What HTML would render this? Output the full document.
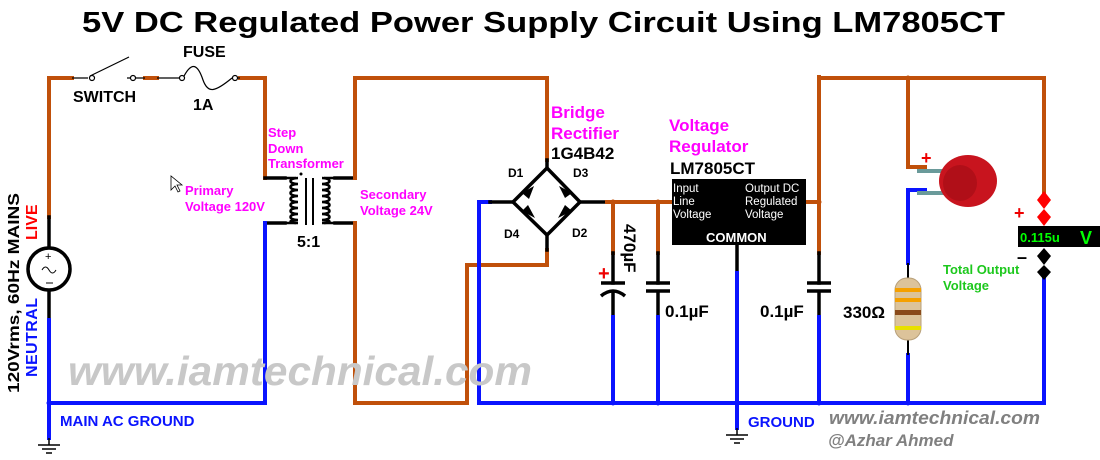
<!DOCTYPE html>
<html><head><meta charset="utf-8"><style>
html,body{margin:0;padding:0;background:#fff;}
svg{display:block;font-family:"Liberation Sans",Arial,sans-serif;}
</style></head><body>
<svg width="1100" height="460" viewBox="0 0 1100 460" xmlns="http://www.w3.org/2000/svg">
<text x="82" y="32" font-size="29" font-weight="bold" textLength="923" lengthAdjust="spacingAndGlyphs">5V DC Regulated Power Supply Circuit Using LM7805CT</text>

<g fill="none" stroke-width="4" stroke-linecap="square">
<path d="M49 217 V78 H72 M145 78 H157 M240 78 H265 V178" stroke="#c0500a"/>
<path d="M49 217 V248 M49 290 V320 M265 178 H285 M265 223 H285" stroke="#000" stroke-width="3.5"/>
<path d="M49 320 V438 M49 403 H265 V223" stroke="#0a14ff"/>
<path d="M335 178 H355 M335 223 H355" stroke="#000" stroke-width="3.5"/>
<path d="M355 178 V78 H547 V160 M355 223 V403 H467 V265 H547 V250" stroke="#c0500a"/>
<path d="M479 403 V202 H490" stroke="#0a14ff"/>
<path d="M490 202 H513 M547 160 V168 M547 235 V250 M580 202 H607" stroke="#000" stroke-width="3.5"/>
<path d="M547 168 L513 202 L547 235 L580 202 Z" stroke="#000" stroke-width="3.5"/>
<path d="M607 202 H672 M613 202 V253 M658 202 V253 M806 202 H819 M819 77 V253 M819 78 H1044 V197 M908 78 V167 H925" stroke="#c0500a"/>
<path d="M613 253 V283 M613 293 V317 M658 253 V283 M658 292 V317 M819 253 V283 M819 292 V317 M737 245 V273" stroke="#000" stroke-width="3.5"/>
<path d="M479 403 H1044 V278 M613 317 V403 M658 317 V403 M819 317 V403 M737 273 V428 M908 263 V190 H925 M908 355 V403" stroke="#0a14ff"/>
</g>
<g stroke="#000" stroke-width="3.5" fill="none">
<path d="M601 283 H625"/><path d="M601 296 Q613 286 625 296"/>
<path d="M646 283 H670 M646 291 H670"/>
<path d="M807 283 H831 M807 291 H831"/>
</g>
<text x="598" y="280" fill="#e00" font-size="20" font-weight="bold">+</text>
<text transform="translate(624,224) rotate(90)" font-size="17" font-weight="bold">470µF</text>
<text x="665" y="317" font-size="17" font-weight="bold">0.1µF</text>
<text x="760" y="317" font-size="17" font-weight="bold">0.1µF</text>
<text x="843" y="318" font-size="17" font-weight="bold">330Ω</text>

<g stroke="#000" stroke-width="1.5">
<path d="M49 438 V445 M38 445 H60 M42 449 H56 M46 453 H52"/>
<path d="M737 428 V435 M726 435 H748 M730 439 H744 M734 443 H740"/>
</g>
<circle cx="49" cy="403" r="2.5" fill="#0a14ff"/>

<circle cx="49" cy="269" r="21" fill="#fff" stroke="#000" stroke-width="3.5"/>
<text x="45" y="260" font-size="11">+</text>
<path d="M42 270 q3.5 -6 7 0 t7 0" stroke="#000" fill="none" stroke-width="1"/>
<path d="M46 283 H53" stroke="#000"/>

<g stroke="#000" stroke-width="1.2" fill="#fff">
<path d="M72 78 H88 M127 78 H145 M90 76 L129 57" fill="none"/>
<circle cx="92" cy="78" r="2.5"/><circle cx="133" cy="78" r="2.5"/>
<path d="M157 78 H180 M240 78 H233" fill="none"/>
<path d="M183 78 C192 60 198 65 203 80 C208 94 215 92 232 78" fill="none"/>
<circle cx="182" cy="78" r="2.5"/><circle cx="235" cy="78" r="2.5"/>
</g>
<text x="73" y="102" font-size="16" font-weight="bold">SWITCH</text>
<text x="183" y="57" font-size="16" font-weight="bold">FUSE</text>
<text x="193" y="110" font-size="16" font-weight="bold">1A</text>

<g stroke="#000" stroke-width="2.5" fill="none">
<path d="M298 178 c-10 0 -10 6 0 6 c-10 0 -10 6 0 6 c-10 0 -10 6 0 6 c-10 0 -10 6 0 6 c-10 0 -10 6 0 6 c-10 0 -10 6 0 6 c-10 0 -10 6 0 6 c-10 0 -10 3 0 3"/>
<path d="M322 178 c10 0 10 6 0 6 c10 0 10 6 0 6 c10 0 10 6 0 6 c10 0 10 6 0 6 c10 0 10 6 0 6 c10 0 10 6 0 6 c10 0 10 6 0 6 c10 0 10 3 0 3"/>
<path d="M285 178 H296 M285 223 H296 M324 178 H335 M324 223 H335"/>
<path d="M306 178 V225 M313 178 V225" stroke-width="2"/>
</g>
<circle cx="301" cy="174" r="1.5"/>
<text x="297" y="247" font-size="16" font-weight="bold">5:1</text>

<g fill="#f0f" font-size="13" font-weight="bold">
<text x="268" y="137">Step</text><text x="268" y="153">Down</text><text x="268" y="168">Transformer</text>
<text x="185" y="195">Primary</text><text x="185" y="211">Voltage 120V</text>
<text x="360" y="199">Secondary</text><text x="360" y="215">Voltage 24V</text>
<text x="551" y="118" font-size="17">Bridge</text><text x="551" y="139" font-size="17">Rectifier</text>
<text x="669" y="131" font-size="17">Voltage</text><text x="669" y="152" font-size="17">Regulator</text>
</g>
<path d="M171 176 L171 190 L175 186 L178 192 L180 191 L177 185 L182 185 Z" fill="#fff" stroke="#000" stroke-width="0.8"/>
<text x="551" y="159" font-size="17" font-weight="bold">1G4B42</text>
<text x="670" y="174" font-size="17" font-weight="bold">LM7805CT</text>

<g fill="#000">
<path d="M522 193 L534 186 L529 199 Z"/><path d="M559 186 L572 193 L565 198 Z"/>
<path d="M522 211 L528 205 L535 218 Z"/><path d="M558 218 L565 205 L572 211 Z"/>
</g>
<g font-size="12" font-weight="bold">
<text x="508" y="177">D1</text><text x="573" y="177">D3</text>
<text x="504" y="238">D4</text><text x="572" y="237">D2</text>
</g>

<rect x="672" y="179" width="134" height="66" fill="#000"/>
<g fill="#fff" font-size="11.5">
<text x="673" y="192">Input</text><text x="673" y="205">Line</text><text x="673" y="218">Voltage</text>
<text x="745" y="192">Output DC</text><text x="745" y="205">Regulated</text><text x="745" y="218">Voltage</text>
<text x="706" y="242" font-size="13" font-weight="bold">COMMON</text>
</g>
<g fill="#c0500a"><circle cx="613" cy="202" r="2.5"/><circle cx="658" cy="202" r="2.5"/><circle cx="819" cy="202" r="2.5"/><circle cx="908" cy="78" r="2.5"/></g>
<g fill="#0a14ff"><circle cx="613" cy="403" r="2.5"/><circle cx="658" cy="403" r="2.5"/><circle cx="737" cy="403" r="2.5"/><circle cx="819" cy="403" r="2.5"/><circle cx="908" cy="403" r="2.5"/></g>

<path d="M917 171 H950 M917 193 H950" stroke="#6a9a9a" stroke-width="4"/>
<ellipse cx="968" cy="181" rx="29" ry="26" fill="#c8141e"/>
<ellipse cx="960" cy="183" rx="17" ry="18" fill="#a00c14" opacity="0.6"/>
<text x="921" y="164" fill="#e00" font-size="18" font-weight="bold">+</text>

<path d="M908 263 V355" stroke="#000" stroke-width="2"/>
<rect x="895" y="278" width="26" height="62" rx="12" fill="#dcc39a" stroke="#b8a07a"/>
<rect x="895" y="288" width="26" height="4" fill="#f5a000"/>
<rect x="895" y="298" width="26" height="4" fill="#f5a000"/>
<rect x="895" y="310" width="26" height="5" fill="#8a4a1a"/>
<rect x="895" y="326" width="26" height="4" fill="#e8e000"/>

<path d="M1044 191 L1051 200 L1044 209 L1037 200 Z M1044 209 L1051 217 L1044 226 L1037 217 Z" fill="#f00"/>
<path d="M1044 248 L1051 256 L1044 265 L1037 256 Z M1044 265 L1051 272 L1044 280 L1037 272 Z" fill="#000"/>
<rect x="1018" y="226" width="82" height="21" fill="#000"/>
<text x="1020" y="242" fill="#0f0" font-size="13" font-weight="bold">0.115u</text>
<text x="1080" y="244" fill="#0f0" font-size="18" font-weight="bold">V</text>
<text x="1014" y="219" fill="#e00" font-size="18" font-weight="bold">+</text>
<text x="1017" y="263" font-size="18" font-weight="bold">–</text>
<text x="943" y="274" fill="#1dc81d" font-size="13" font-weight="bold">Total Output</text>
<text x="943" y="290" fill="#1dc81d" font-size="13" font-weight="bold">Voltage</text>

<text transform="translate(19,393) rotate(-90)" font-size="16" font-weight="bold" textLength="200" lengthAdjust="spacingAndGlyphs">120Vrms, 60Hz MAINS</text>
<text transform="translate(37,240) rotate(-90)" fill="#f00" font-size="16" font-weight="bold">LIVE</text>
<text transform="translate(37,377) rotate(-90)" fill="#0a14ff" font-size="16" font-weight="bold" textLength="79">NEUTRAL</text>
<text x="60" y="426" fill="#0a14ff" font-size="15" font-weight="bold">MAIN AC GROUND</text>
<text x="748" y="427" fill="#0a14ff" font-size="15" font-weight="bold">GROUND</text>

<text x="68" y="385" fill="#c8c8c8" font-size="41" font-weight="bold" font-style="italic" textLength="464" lengthAdjust="spacingAndGlyphs">www.iamtechnical.com</text>
<text x="829" y="424" fill="#808080" font-size="18" font-weight="bold" font-style="italic" textLength="211" lengthAdjust="spacingAndGlyphs">www.iamtechnical.com</text>
<text x="828" y="446" fill="#808080" font-size="17" font-weight="bold" font-style="italic">@Azhar Ahmed</text>
</svg>
</body></html>
